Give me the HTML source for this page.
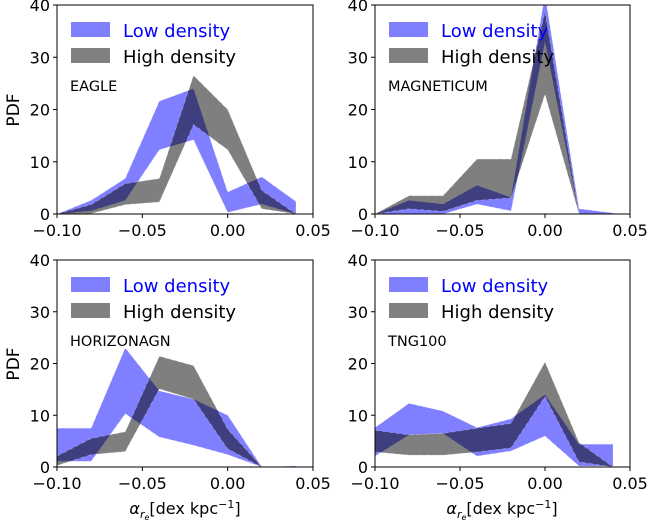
<!DOCTYPE html>
<html><head><meta charset="utf-8"><style>
body{margin:0;background:#fff;}
svg text{font-family:"DejaVu Sans","Liberation Sans",sans-serif;}
</style></head><body>
<svg id="fig" width="650" height="527" xmlns="http://www.w3.org/2000/svg"></svg>
<script>
const xs = [-0.10,-0.08,-0.06,-0.04,-0.02,0.00,0.02,0.04];
const xTicks = [-0.10,-0.05,0.00,0.05];
const xTickLabels = ["\u22120.10","\u22120.05","0.00","0.05"];
const yTicks = [0,10,20,30,40];
const panelNames = ["EAGLE","MAGNETICUM","HORIZONAGN","TNG100"];
const lowLo = [
 [0,0.6,2.6,12.3,14.2,0.3,1.9,0],
 [0,0,0,1.9,0.6,32.9,0,0],
 [1.1,1.1,10.3,5.8,4.2,2.4,0,0],
 [2.1,6.2,6.5,2.1,3.1,6.0,0.2,0.2]];
const lowHi = [
 [0,2.6,6.8,21.6,24,4.2,7.1,2.4],
 [0,2.6,1.9,5.5,3.2,42,1,0.2],
 [7.5,7.5,23,14.7,13.1,10,0,0.2],
 [7.6,12.3,10.8,7.6,9.3,14,4.4,4.4]];
const highLo = [
 [0,0.1,1.8,2.3,17.1,12.3,1,0],
 [0,1,0.5,2.6,3.1,22.9,0,0],
 [0.3,2.4,3,15.1,13.1,3.5,0,0],
 [2.9,2.3,2.3,2.9,3.7,13.6,1,0]];
const highHi = [
 [0,1.8,5.8,6.8,26.5,20,4.5,0],
 [0,3.5,3.5,10.5,10.5,38.7,0,0],
 [2.1,5.5,6.8,21.4,19.6,7.3,0,0],
 [7.1,6.2,6.5,7.5,8.4,20.3,4.7,0]];

const NS="http://www.w3.org/2000/svg";
const svg=document.getElementById('fig');
function mk(tag,attrs,parent){const e=document.createElementNS(NS,tag);for(const k in attrs)e.setAttribute(k,attrs[k]);(parent||svg).appendChild(e);return e;}
const boxes=[{l:57,r:313,t:5,b:214},{l:375,r:630,t:5,b:214},{l:57,r:313,t:260,b:467},{l:375,r:630,t:260,b:467}];
boxes.forEach((bx,p)=>{
  const g=mk('g',{});
  
  
  const X=v=>bx.l+(v+0.10)/0.15*(bx.r-bx.l);
  const Y=v=>bx.b-v/40*(bx.b-bx.t);
  const cid='clip'+p;
  const cp=mk('clipPath',{id:cid},g);mk('rect',{x:bx.l,y:bx.t,width:bx.r-bx.l,height:bx.b-bx.t},cp);
  function band(lo,hi,fill,name){
    let d='M'+xs.map((x,i)=>X(x)+','+Y(hi[i])).join('L');
    d+='L'+xs.map((x,i)=>X(x)+','+Y(lo[i])).reverse().join('L')+'Z';
    const path=mk('path',{d:d,fill:fill,'fill-opacity':0.5,stroke:'#fff','stroke-opacity':0.3,'stroke-width':0.8,'stroke-dasharray':'4,3','clip-path':'url(#'+cid+')'},g);
    
    
  }
  band(lowLo[p],lowHi[p],'#0000ff','low-density-band');
  band(highLo[p],highHi[p],'#000000','high-density-band');
  const frame=mk('rect',{x:bx.l,y:bx.t,width:bx.r-bx.l,height:bx.b-bx.t,fill:'none',stroke:'#000','stroke-width':1},g);
  
  
  xTicks.forEach((t,i)=>{
    mk('line',{x1:X(t),x2:X(t),y1:bx.b,y2:bx.b+4,stroke:'#000'},g);
    const tx=mk('text',{x:X(t),y:bx.b+22,'font-size':16,'text-anchor':'middle'},g);
    tx.textContent=xTickLabels[i];
    
    
  });
  yTicks.forEach(t=>{
    mk('line',{x1:bx.l-4,x2:bx.l,y1:Y(t),y2:Y(t),stroke:'#000'},g);
    const tx=mk('text',{x:bx.l-7,y:Y(t)+6,'font-size':16,'text-anchor':'end'},g);
    tx.textContent=t;
    
    
  });
  const lg=mk('g',{},g);
  
  
  mk('rect',{x:bx.l+14,y:bx.t+17,width:39,height:15,fill:'#8080ff'},lg);
  const t1=mk('text',{x:bx.l+66,y:bx.t+32,'font-size':18,fill:'#0000ff'},lg);t1.textContent='Low density';
  
  
  mk('rect',{x:bx.l+14,y:bx.t+43,width:39,height:15,fill:'#808080'},lg);
  const t2=mk('text',{x:bx.l+66,y:bx.t+58,'font-size':18,fill:'#000'},lg);t2.textContent='High density';
  
  
  const nm=mk('text',{x:bx.l+13,y:bx.t+86,'font-size':14.5},g);nm.textContent=panelNames[p];
  
  
});
</script>
<svg style="position:absolute;left:0;top:0" width="650" height="527" xmlns="http://www.w3.org/2000/svg">
<text x="0" y="0" transform="translate(19,110) rotate(-90)" font-size="17" text-anchor="middle" font-family="DejaVu Sans, Liberation Sans, sans-serif">PDF</text>
<text x="0" y="0" transform="translate(19,364) rotate(-90)" font-size="17" text-anchor="middle" font-family="DejaVu Sans, Liberation Sans, sans-serif">PDF</text>
<text x="185" y="514" font-size="16" text-anchor="middle" font-family="DejaVu Sans, Liberation Sans, sans-serif"><tspan font-style="italic">α</tspan><tspan font-style="italic" font-size="11" dy="4">r</tspan><tspan font-style="italic" font-size="8" dy="2">e</tspan><tspan dy="-6">[dex kpc</tspan><tspan font-size="11" dy="-6">−1</tspan><tspan dy="6">]</tspan></text>
<text x="502" y="514" font-size="16" text-anchor="middle" font-family="DejaVu Sans, Liberation Sans, sans-serif"><tspan font-style="italic">α</tspan><tspan font-style="italic" font-size="11" dy="4">r</tspan><tspan font-style="italic" font-size="8" dy="2">e</tspan><tspan dy="-6">[dex kpc</tspan><tspan font-size="11" dy="-6">−1</tspan><tspan dy="6">]</tspan></text>
</svg>
</body></html>
